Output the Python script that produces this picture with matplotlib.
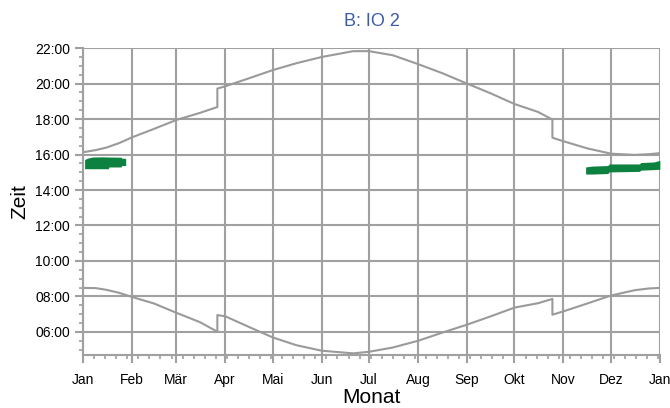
import matplotlib
matplotlib.use("Agg")
import matplotlib.pyplot as plt
from matplotlib.ticker import FixedLocator, MultipleLocator, FuncFormatter

plt.rcParams['font.family'] = ['Liberation Sans', 'DejaVu Sans']

# month starts (day of year) and labels
month_days = [0, 31, 59, 90, 120, 151, 181, 212, 243, 273, 304, 334, 365]
month_labels = ["Jan", "Feb", "Mär", "Apr", "Mai", "Jun", "Jul", "Aug",
                "Sep", "Okt", "Nov", "Dez", "Jan"]

# sunset / sunrise (hours); DST jumps at day 85 and 297
sun_days = [0, 8, 15, 23, 31, 45, 59, 74, 85, 85, 90, 105, 120, 135, 151, 171, 181,
            196, 212, 227, 243, 258, 273, 288, 297, 297, 304, 319, 334, 349, 358, 365]
sunset = [16.13, 16.25, 16.4, 16.65, 16.97, 17.45, 17.95, 18.35, 18.68, 19.72, 19.85, 20.3,
          20.76, 21.15, 21.5, 21.83, 21.83, 21.6, 21.1, 20.6, 20.0, 19.45,
          18.85, 18.4, 17.97, 16.95, 16.75, 16.35, 16.05, 15.98, 16.02, 16.08]
sunrise = [8.48, 8.47, 8.37, 8.2, 7.97, 7.6, 7.08, 6.55, 6.01, 6.95, 6.88, 6.28,
           5.69, 5.25, 4.94, 4.79, 4.88, 5.12, 5.5, 5.95, 6.41, 6.88,
           7.37, 7.62, 7.86, 6.97, 7.16, 7.6, 8.05, 8.35, 8.45, 8.48]

# shadow periods (green)
jan_days = [1, 3, 6, 12, 16, 16.5, 24, 24.5, 27]
jan_top = [15.72, 15.8, 15.86, 15.87, 15.86, 15.86, 15.85, 15.8, 15.78]
jan_bottom = [15.2, 15.2, 15.2, 15.2, 15.2, 15.3, 15.3, 15.38, 15.38]

dec_days = [318, 322, 332, 333, 352, 353, 361, 365]
dec_top = [15.3, 15.35, 15.38, 15.47, 15.47, 15.55, 15.58, 15.67]
dec_bottom = [14.9, 14.9, 14.93, 15.02, 15.05, 15.12, 15.15, 15.17]

fig = plt.figure(figsize=(6.7, 4.08), dpi=100)
ax = fig.add_axes([0.1239, 0.13, 0.861, 0.752])

grey = '#a0a0a0'
ax.plot(sun_days, sunset, color='#9a9a9a', lw=1.5)
ax.plot(sun_days, sunrise, color='#9a9a9a', lw=1.5)

green = '#0c8140'
ax.fill_between(jan_days, jan_bottom, jan_top, color=green, lw=0)
ax.fill_between(dec_days, dec_bottom, dec_top, color=green, lw=0)

ax.set_xlim(0, 365)
ax.set_ylim(4.7, 22)

ax.xaxis.set_major_locator(FixedLocator(month_days))
ax.set_xticklabels(month_labels)
ax.xaxis.set_minor_locator(MultipleLocator(7))
ax.yaxis.set_major_locator(MultipleLocator(2))
ax.yaxis.set_minor_locator(MultipleLocator(0.5))
ax.yaxis.set_major_formatter(FuncFormatter(lambda v, p: "%02d:00" % int(round(v))))

ax.grid(True, which='major', color=grey, lw=1.5)
ax.set_axisbelow(True)
for s in ['top', 'right']:
    ax.spines[s].set_visible(False)
for s in ['left', 'bottom']:
    ax.spines[s].set_color(grey)
    ax.spines[s].set_linewidth(1.5)

ax.tick_params(which='major', length=6, width=1.5, color=grey, labelsize=10)
ax.tick_params(which='minor', length=3, width=1.2, color=grey)
ax.tick_params(axis='x', pad=7)

ax.set_xlabel("Monat", fontsize=15, labelpad=1)
ax.set_ylabel("Zeit", fontsize=15, labelpad=4)
ax.set_title("B: IO 2", color='#3b5ca8', fontsize=13, pad=16)

fig.savefig("out.png", dpi=100)
